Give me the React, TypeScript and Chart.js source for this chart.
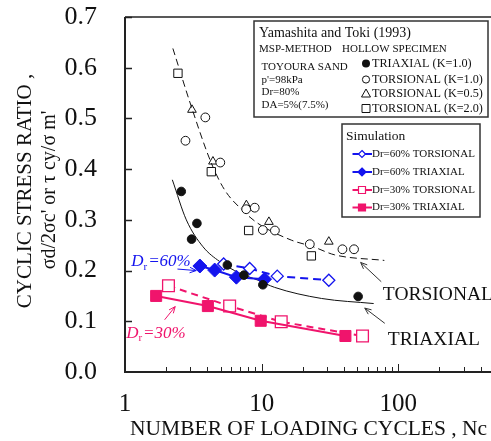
import React, { useEffect, useRef } from "react";
import { Chart, registerables } from "chart.js";
Chart.register(...registerables);

// ---- Yamashita and Toki (1993) test data ----
const triaxK10X = [2.58, 3.36, 3.07, 5.61, 7.42, 10.2, 50.8];
const triaxK10Y = [0.356, 0.293, 0.262, 0.211, 0.191, 0.172, 0.149];
const torsK10X = [2.77, 3.87, 4.98, 7.7, 8.9, 10.2, 12.5, 22.5, 39, 47.4];
const torsK10Y = [0.456, 0.502, 0.413, 0.321, 0.324, 0.28, 0.279, 0.252, 0.242, 0.242];
const torsK05X = [3.09, 4.4, 7.73, 11.3, 31];
const torsK05Y = [0.517, 0.415, 0.329, 0.296, 0.257];
const torsK20X = [2.44, 4.28, 8.03, 23.1];
const torsK20Y = [0.589, 0.395, 0.279, 0.229];

// ---- fitted curves ----
const triaxCurveX = [2.22, 2.81, 3.72, 4.92, 6.9, 9.4, 12.4, 27.4, 66];
const triaxCurveY = [0.379, 0.3, 0.247, 0.218, 0.195, 0.181, 0.167, 0.145, 0.135];
const torsCurveX = [2.24, 3.06, 4.28, 5.36, 7.1, 9.4, 16.5, 23.8, 34.2, 79];
const torsCurveY = [0.638, 0.523, 0.412, 0.359, 0.321, 0.293, 0.26, 0.247, 0.231, 0.22];

// ---- simulation ----
const sim60TorsX = [5.27, 8.17, 13.0, 31.0];
const sim60TorsY = [0.213, 0.204, 0.189, 0.181];
const sim60TriaxX = [3.53, 4.53, 6.53, 10.5];
const sim60TriaxY = [0.209, 0.201, 0.187, 0.183];
const sim30TorsX = [2.08, 5.83, 13.9, 54.7];
const sim30TorsY = [0.17, 0.13, 0.099, 0.071];
const sim30TriaxX = [1.69, 4.04, 9.84, 41.0];
const sim30TriaxY = [0.15, 0.13, 0.101, 0.071];

// ---- axes ----
const xDecades = [1, 10, 100];
const xMajorLabels = [1, 10, 100];
const yTickValues = [0.1, 0.2, 0.3, 0.4, 0.5, 0.6, 0.7];

const BLUE = "#1414ee";
const PINK = "#f0146c";
const INK = "#111111";
const SERIF = "'Liberation Serif', 'Times New Roman', serif";

const pts = (xs: number[], ys: number[]) => xs.map((x, i) => ({ x, y: ys[i] }));

function arrow(ctx: CanvasRenderingContext2D, x1: number, y1: number, x2: number, y2: number, color: string) {
  ctx.save();
  ctx.strokeStyle = color;
  ctx.lineWidth = 1;
  ctx.beginPath();
  ctx.moveTo(x1, y1);
  ctx.lineTo(x2, y2);
  const a = Math.atan2(y2 - y1, x2 - x1);
  const L = 7;
  ctx.moveTo(x2, y2);
  ctx.lineTo(x2 - L * Math.cos(a - 0.4), y2 - L * Math.sin(a - 0.4));
  ctx.moveTo(x2, y2);
  ctx.lineTo(x2 - L * Math.cos(a + 0.4), y2 - L * Math.sin(a + 0.4));
  ctx.stroke();
  ctx.restore();
}

function drLabel(ctx: CanvasRenderingContext2D, x: number, y: number, pct: string, color: string) {
  ctx.save();
  ctx.fillStyle = color;
  ctx.textBaseline = "middle";
  ctx.textAlign = "left";
  ctx.font = `italic 17px ${SERIF}`;
  ctx.fillText("D", x, y);
  let w = ctx.measureText("D").width;
  ctx.font = `11px ${SERIF}`;
  ctx.fillText("r", x + w, y + 5);
  w += ctx.measureText("r").width + 1;
  ctx.font = `italic 17px ${SERIF}`;
  ctx.fillText("=" + pct, x + w, y);
  ctx.restore();
}

const overlay = {
  id: "overlay",
  afterDraw(chart: any) {
    const ctx: CanvasRenderingContext2D = chart.ctx;
    const { left, right, top, bottom } = chart.chartArea;
    const xs = chart.scales.x;
    const ys = chart.scales.y;
    ctx.save();
    // frame
    ctx.strokeStyle = "#222";
    ctx.lineWidth = 2;
    ctx.beginPath();
    ctx.moveTo(left, top);
    ctx.lineTo(left, bottom);
    ctx.lineTo(right, bottom);
    ctx.lineTo(right, top);
    ctx.stroke();
    ctx.lineWidth = 1.5;
    ctx.beginPath();
    ctx.moveTo(left, top);
    ctx.lineTo(right, top);
    ctx.stroke();
    // y ticks (inward)
    ctx.lineWidth = 1.5;
    ctx.beginPath();
    for (const v of yTickValues) {
      const py = Math.round(ys.getPixelForValue(v)) + 0.5;
      ctx.moveTo(left, py);
      ctx.lineTo(left + 7, py);
    }
    ctx.stroke();
    // x ticks (inward)
    ctx.lineWidth = 1;
    ctx.beginPath();
    for (const d of xDecades) {
      for (let m = 1; m <= 10; m++) {
        const v = d * m;
        const px = Math.round(xs.getPixelForValue(v)) + 0.5;
        const len = m === 1 || m === 10 ? 8 : 5;
        ctx.moveTo(px, bottom);
        ctx.lineTo(px, bottom - len);
      }
    }
    ctx.stroke();

    // axis titles
    ctx.fillStyle = INK;
    ctx.font = `21.5px ${SERIF}`;
    ctx.textAlign = "left";
    ctx.textBaseline = "middle";
    ctx.fillText("NUMBER OF LOADING CYCLES , Nc", 130, 429);

    ctx.save();
    ctx.translate(25, 191);
    ctx.rotate(-Math.PI / 2);
    ctx.textAlign = "center";
    ctx.font = `21px ${SERIF}`;
    ctx.fillText("CYCLIC STRESS RATIO ,", 0, 0);
    ctx.restore();
    ctx.save();
    ctx.translate(50, 190);
    ctx.rotate(-Math.PI / 2);
    ctx.textAlign = "center";
    ctx.font = `20px ${SERIF}`;
    ctx.fillText("\u03c3d/2\u03c3c' or \u03c4 cy/\u03c3 m'", 0, 0);
    ctx.restore();

    // annotations (positioned in data space)
    const P = (x: number, y: number) => [xs.getPixelForValue(x), ys.getPixelForValue(y)];
    const [t1x, t1y] = P(75, 0.178);
    const [t2x, t2y] = P(53, 0.216);
    arrow(ctx, t1x, t1y, t2x, t2y, "#333");
    const [r1x, r1y] = P(79.6, 0.096);
    const [r2x, r2y] = P(56.8, 0.126);
    arrow(ctx, r1x, r1y, r2x, r2y, "#333");
    ctx.fillStyle = INK;
    ctx.font = `19.5px ${SERIF}`;
    ctx.textAlign = "left";
    ctx.textBaseline = "middle";
    const [tx, ty] = P(77, 0.152);
    ctx.fillText("TORSIONAL", tx, ty);
    const [rx, ry] = P(83.8, 0.063);
    ctx.fillText("TRIAXIAL", rx, ry);

    const [d6x, d6y] = P(1.11, 0.2175);
    drLabel(ctx, d6x, d6y, "60%", BLUE);
    const [a6x1, a6y1] = P(2.42, 0.203);
    const [a6x2, a6y2] = P(3.32, 0.2);
    arrow(ctx, a6x1, a6y1, a6x2, a6y2, BLUE);
    const [d3x, d3y] = P(1.02, 0.076);
    drLabel(ctx, d3x, d3y, "30%", PINK);
    const [a3x1, a3y1] = P(1.95, 0.103);
    const [a3x2, a3y2] = P(2.33, 0.129);
    arrow(ctx, a3x1, a3y1, a3x2, a3y2, PINK);

    // legend box 1
    ctx.fillStyle = "#fff";
    ctx.fillRect(254, 21, 234, 96);
    ctx.strokeStyle = "#333";
    ctx.lineWidth = 1.5;
    ctx.strokeRect(254, 21, 234, 96);
    ctx.fillStyle = INK;
    ctx.textAlign = "left";
    ctx.textBaseline = "middle";
    ctx.font = `14px ${SERIF}`;
    ctx.fillText("Yamashita and Toki (1993)", 259, 33);
    ctx.font = `11px ${SERIF}`;
    ctx.fillText("MSP-METHOD", 259, 49.5);
    ctx.fillText("HOLLOW SPECIMEN", 342, 49.5);
    ctx.fillText("TOYOURA SAND", 261.5, 67);
    ctx.fillText("p'=98kPa", 261.5, 80);
    ctx.fillText("Dr=80%", 261.5, 92);
    ctx.fillText("DA=5%(7.5%)", 261.5, 105);
    ctx.font = `12.2px ${SERIF}`;
    const rows = [
      ["fcircle", "TRIAXIAL (K=1.0)", 63.5],
      ["ocircle", "TORSIONAL (K=1.0)", 79.5],
      ["tri", "TORSIONAL (K=0.5)", 93.5],
      ["sq", "TORSIONAL (K=2.0)", 108.5],
    ] as const;
    for (const [sym, label, yy] of rows) {
      const cx = 366;
      ctx.strokeStyle = INK;
      ctx.fillStyle = INK;
      ctx.lineWidth = 1;
      ctx.beginPath();
      if (sym === "fcircle") {
        ctx.arc(cx, yy, 4, 0, Math.PI * 2);
        ctx.fill();
      } else if (sym === "ocircle") {
        ctx.arc(cx, yy, 3.6, 0, Math.PI * 2);
        ctx.stroke();
      } else if (sym === "tri") {
        ctx.moveTo(cx, yy - 4.5);
        ctx.lineTo(cx + 4.5, yy + 3.5);
        ctx.lineTo(cx - 4.5, yy + 3.5);
        ctx.closePath();
        ctx.stroke();
      } else {
        ctx.rect(cx - 4, yy - 4, 8, 8);
        ctx.stroke();
      }
      ctx.fillStyle = INK;
      ctx.fillText(label, 372, yy);
    }

    // legend box 2
    ctx.fillStyle = "#fff";
    ctx.fillRect(342, 124, 138, 93);
    ctx.strokeStyle = "#333";
    ctx.lineWidth = 1.5;
    ctx.strokeRect(342, 124, 138, 93);
    ctx.fillStyle = INK;
    ctx.font = `13.5px ${SERIF}`;
    ctx.fillText("Simulation", 346, 136);
    ctx.font = `11px ${SERIF}`;
    const simRows = [
      [BLUE, "diamond", false, "Dr=60% TORSIONAL", 154],
      [BLUE, "diamond", true, "Dr=60% TRIAXIAL", 172],
      [PINK, "square", false, "Dr=30% TORSIONAL", 190],
      [PINK, "square", true, "Dr=30% TRIAXIAL", 207.5],
    ] as const;
    for (const [col, shape, filled, label, yy] of simRows) {
      ctx.strokeStyle = col;
      ctx.lineWidth = 2;
      ctx.beginPath();
      ctx.moveTo(352.5, yy);
      ctx.lineTo(372, yy);
      ctx.stroke();
      const cx = 362;
      ctx.beginPath();
      if (shape === "diamond") {
        const r = filled ? 4 : 3.5;
        ctx.moveTo(cx, yy - r);
        ctx.lineTo(cx + r, yy);
        ctx.lineTo(cx, yy + r);
        ctx.lineTo(cx - r, yy);
        ctx.closePath();
      } else {
        ctx.rect(cx - 3.5, yy - 3.5, 7, 7);
      }
      ctx.fillStyle = filled ? col : "#fff";
      ctx.fill();
      ctx.lineWidth = 1.2;
      ctx.stroke();
      ctx.fillStyle = INK;
      ctx.fillText(label, 372, yy);
    }
    ctx.restore();
  },
};

export default function App() {
  const ref = useRef<HTMLCanvasElement>(null);
  useEffect(() => {
    if (!ref.current) return;
    const xTicks: number[] = [];
    for (const d of xDecades) for (let m = 1; m <= 9; m++) xTicks.push(d * m);
    xTicks.push(1000);
    const marker = (extra: any) => ({
      showLine: false,
      pointHoverRadius: 0,
      ...extra,
    });
    const chart = new Chart(ref.current, {
      type: "line",
      data: {
        datasets: [
          marker({
            label: "TRIAXIAL (K=1.0)",
            data: pts(triaxK10X, triaxK10Y),
            pointStyle: "circle",
            pointRadius: 4.3,
            pointBackgroundColor: INK,
            pointBorderColor: INK,
            pointBorderWidth: 1,
          }),
          {
            label: "Dr=60% TRIAXIAL",
            data: pts(sim60TriaxX, sim60TriaxY),
            borderColor: BLUE,
            borderWidth: 2,
            pointStyle: "rectRot",
            pointRadius: 7,
            pointBackgroundColor: BLUE,
            pointBorderColor: BLUE,
            pointBorderWidth: 1,
          },
          {
            label: "Dr=60% TORSIONAL",
            data: pts(sim60TorsX, sim60TorsY),
            borderColor: BLUE,
            borderWidth: 2,
            borderDash: [8, 5],
            pointStyle: "rectRot",
            pointRadius: 6,
            pointBackgroundColor: "#fff",
            pointBorderColor: BLUE,
            pointBorderWidth: 1.3,
          },
          {
            label: "Dr=30% TRIAXIAL",
            data: pts(sim30TriaxX, sim30TriaxY),
            borderColor: PINK,
            borderWidth: 2,
            pointStyle: "rect",
            pointRadius: 7.8,
            pointBackgroundColor: PINK,
            pointBorderColor: PINK,
            pointBorderWidth: 1,
          },
          {
            label: "Dr=30% TORSIONAL",
            data: pts(sim30TorsX, sim30TorsY),
            borderColor: PINK,
            borderWidth: 2,
            borderDash: [7, 5],
            pointStyle: "rect",
            pointRadius: 8.3,
            pointBackgroundColor: "#fff",
            pointBorderColor: PINK,
            pointBorderWidth: 1.3,
          },
          marker({
            label: "TORSIONAL (K=1.0)",
            data: pts(torsK10X, torsK10Y),
            pointStyle: "circle",
            pointRadius: 4.4,
            pointBackgroundColor: "#fff",
            pointBorderColor: INK,
            pointBorderWidth: 1,
          }),
          marker({
            label: "TORSIONAL (K=0.5)",
            data: pts(torsK05X, torsK05Y),
            pointStyle: "triangle",
            pointRadius: 5,
            pointBackgroundColor: "rgba(255,255,255,0)",
            pointBorderColor: INK,
            pointBorderWidth: 1,
          }),
          marker({
            label: "TORSIONAL (K=2.0)",
            data: pts(torsK20X, torsK20Y),
            pointStyle: "rect",
            pointRadius: 5.9,
            pointBackgroundColor: "#fff",
            pointBorderColor: INK,
            pointBorderWidth: 1,
          }),
          {
            label: "TRIAXIAL fit",
            data: pts(triaxCurveX, triaxCurveY),
            borderColor: INK,
            borderWidth: 1,
            pointRadius: 0,
            cubicInterpolationMode: "monotone",
          },
          {
            label: "TORSIONAL fit",
            data: pts(torsCurveX, torsCurveY),
            borderColor: INK,
            borderWidth: 1,
            borderDash: [7, 4],
            pointRadius: 0,
            cubicInterpolationMode: "monotone",
          },
        ] as any,
      },
      options: {
        responsive: false,
        animation: false,
        events: [],
        layout: { padding: { top: 17, right: 25, left: 0, bottom: 0 } },
        plugins: { legend: { display: false }, tooltip: { enabled: false } },
        scales: {
          x: {
            type: "logarithmic",
            min: 1,
            max: 1000,
            grid: { display: false },
            border: { display: false },
            afterFit: (s: any) => {
              s.height = 69;
              s.paddingLeft = 0;
              s.paddingRight = 0;
            },
            afterBuildTicks: (s: any) => {
              s.ticks = xTicks.map((v) => ({ value: v }));
            },
            ticks: {
              autoSkip: false,
              maxRotation: 0,
              padding: 9,
              color: INK,
              font: { family: SERIF, size: 25 },
              callback: (v: any) => (xMajorLabels.includes(Number(v)) ? String(v) : ""),
            },
          },
          y: {
            type: "linear",
            min: 0,
            max: 0.7,
            grid: { display: false },
            border: { display: false },
            afterFit: (s: any) => {
              s.width = 125;
              s.paddingTop = 0;
              s.paddingBottom = 0;
            },
            ticks: {
              stepSize: 0.1,
              padding: 20,
              color: INK,
              font: { family: SERIF, size: 26 },
              callback: (v: any) => Number(v).toFixed(1),
            },
          },
        },
      } as any,
      plugins: [overlay],
    });
    return () => chart.destroy();
  }, []);
  return (
    <div style={{ position: "absolute", left: 0, top: 0, width: 491, height: 441, overflow: "hidden", background: "#fff" }}>
      <canvas ref={ref} width={560} height={441} style={{ display: "block", width: 560, height: 441 }} />
    </div>
  );
}
